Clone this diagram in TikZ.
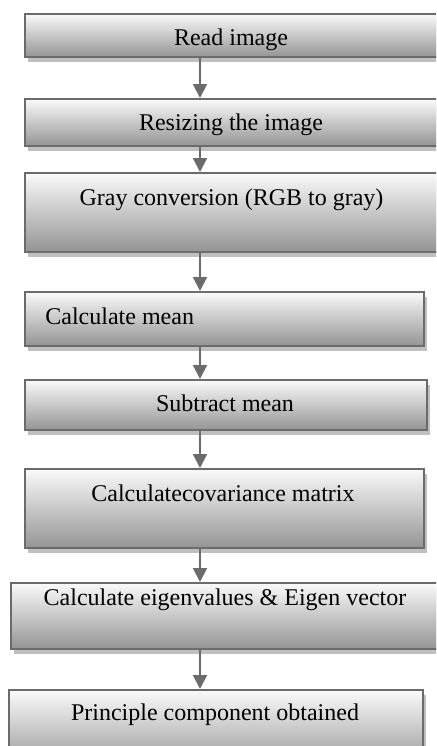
\documentclass[tikz,border=0pt]{standalone}
\usepackage{fontspec}
\setmainfont{Liberation Serif}
\usetikzlibrary{positioning}
\usetikzlibrary{arrows.meta}
\usetikzlibrary{shadows}

\begin{document}
\begin{tikzpicture}[x=0.5pt, y=-0.5pt, >={Triangle[length=7pt, width=7pt]},
    stepbox/.style={draw=black!58, line width=1pt, rectangle, anchor=north west, inner sep=0pt,
        top color=black!2, bottom color=black!42,
        drop shadow={shadow xshift=1.5pt, shadow yshift=-2.5pt, fill=black!25, opacity=1}},
    steptext/.style={anchor=base, inner sep=0pt, font=\fontsize{12}{14}\selectfont},
    flow/.style={->, draw=black!58, line width=1pt}]
    \useasboundingbox (0,0) rectangle (436,746);
    \clip (0,0) rectangle (436,746);

    % boxes
    \node[stepbox, minimum width=215pt, minimum height=21.5pt] (read) at (24,13) {};
    \node[stepbox, minimum width=215pt, minimum height=23.5pt] (resize) at (24,98) {};
    \node[stepbox, minimum width=215pt, minimum height=39.5pt] (gray) at (24,172) {};
    \node[stepbox, minimum width=199.5pt, minimum height=26.8pt] (mean) at (24,291) {};
    \node[stepbox, minimum width=201pt, minimum height=25pt] (sub) at (24,379) {};
    \node[stepbox, minimum width=199.5pt, minimum height=39.7pt] (cov) at (24,468) {};
    \node[stepbox, minimum width=222pt, minimum height=33pt] (eig) at (10,582) {};
    \node[stepbox, minimum width=207pt, minimum height=40pt] (pc) at (8,689) {};

    % texts
    \node[steptext] (readtxt) at (231,45) {Read image};
    \node[steptext] (resizetxt) at (231,130) {Resizing the image};
    \node[steptext] (graytxt) at (231.5,205) {Gray conversion (RGB to gray)};
    \node[steptext, anchor=base west] (meantxt) at (45,324) {Calculate mean};
    \node[steptext] (subtxt) at (225,411) {Subtract mean};
    \node[steptext] (covtxt) at (223,501.5) {Calculatecovariance matrix};
    \node[steptext] (eigtxt) at (225,605) {Calculate eigenvalues \& Eigen vector};
    \node[steptext] (pctxt) at (215,720) {Principle component obtained};

    % arrows
    \coordinate (axis) at (200,0);
    \draw[flow] (read.south -| axis) -- (resize.north -| axis);
    \draw[flow] (resize.south -| axis) -- (gray.north -| axis);
    \draw[flow] (gray.south -| axis) -- (mean.north -| axis);
    \draw[flow] (mean.south -| axis) -- (sub.north -| axis);
    \draw[flow] (sub.south -| axis) -- (cov.north -| axis);
    \draw[flow] (cov.south -| axis) -- (eig.north -| axis);
    \draw[flow] (eig.south -| axis) -- (pc.north -| axis);
\end{tikzpicture}
\end{document}
